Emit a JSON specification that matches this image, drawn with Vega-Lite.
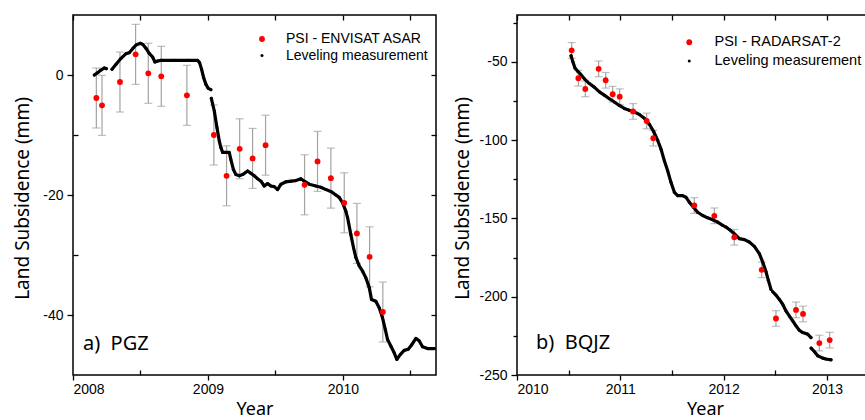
{
  "$schema": "https://vega.github.io/schema/vega-lite/v6.json",
  "background": "white",
  "padding": {"left": 12, "top": 13, "right": 0, "bottom": 0},
  "spacing": 81,
  "bounds": "flush",
  "resolve": {"scale": {"color": "independent", "size": "independent"}, "legend": {"color": "independent", "size": "independent"}},
  "datasets": {
    "psiA": [
      {"t": 2008.173, "v": -3.83, "lo": -8.83, "hi": 1.17, "series": "PSI - ENVISAT ASAR"},
      {"t": 2008.215, "v": -5.06, "lo": -10.06, "hi": -0.06, "series": "PSI - ENVISAT ASAR"},
      {"t": 2008.348, "v": -1.17, "lo": -6.17, "hi": 3.83, "series": "PSI - ENVISAT ASAR"},
      {"t": 2008.464, "v": 3.44, "lo": -1.56, "hi": 8.44, "series": "PSI - ENVISAT ASAR"},
      {"t": 2008.558, "v": 0.28, "lo": -4.72, "hi": 5.28, "series": "PSI - ENVISAT ASAR"},
      {"t": 2008.654, "v": -0.22, "lo": -5.22, "hi": 4.78, "series": "PSI - ENVISAT ASAR"},
      {"t": 2008.844, "v": -3.39, "lo": -8.39, "hi": 1.61, "series": "PSI - ENVISAT ASAR"},
      {"t": 2009.044, "v": -10.0, "lo": -15.0, "hi": -5.0, "series": "PSI - ENVISAT ASAR"},
      {"t": 2009.138, "v": -16.8, "lo": -21.8, "hi": -11.8, "series": "PSI - ENVISAT ASAR"},
      {"t": 2009.235, "v": -12.3, "lo": -17.3, "hi": -7.3, "series": "PSI - ENVISAT ASAR"},
      {"t": 2009.331, "v": -13.9, "lo": -18.9, "hi": -8.9, "series": "PSI - ENVISAT ASAR"},
      {"t": 2009.427, "v": -11.7, "lo": -16.7, "hi": -6.7, "series": "PSI - ENVISAT ASAR"},
      {"t": 2009.716, "v": -18.3, "lo": -23.3, "hi": -13.3, "series": "PSI - ENVISAT ASAR"},
      {"t": 2009.812, "v": -14.4, "lo": -19.4, "hi": -9.4, "series": "PSI - ENVISAT ASAR"},
      {"t": 2009.911, "v": -17.2, "lo": -22.2, "hi": -12.2, "series": "PSI - ENVISAT ASAR"},
      {"t": 2010.010, "v": -21.3, "lo": -26.3, "hi": -16.3, "series": "PSI - ENVISAT ASAR"},
      {"t": 2010.104, "v": -26.4, "lo": -31.4, "hi": -21.4, "series": "PSI - ENVISAT ASAR"},
      {"t": 2010.198, "v": -30.3, "lo": -35.3, "hi": -25.3, "series": "PSI - ENVISAT ASAR"},
      {"t": 2010.296, "v": -39.5, "lo": -44.5, "hi": -34.5, "series": "PSI - ENVISAT ASAR"}
    ],
    "levA": [
      {"t": 2008.158, "v": 0, "seg": 1, "series": "Leveling measurement"},
      {"t": 2008.183, "v": 0.39, "seg": 1, "series": "Leveling measurement"},
      {"t": 2008.207, "v": 0.83, "seg": 1, "series": "Leveling measurement"},
      {"t": 2008.232, "v": 1.17, "seg": 1, "series": "Leveling measurement"},
      {"t": 2008.247, "v": 1.06, "seg": 1, "series": "Leveling measurement"},
      {"t": 2008.289, "v": 0.94, "seg": 2, "series": "Leveling measurement"},
      {"t": 2008.319, "v": 1.78, "seg": 2, "series": "Leveling measurement"},
      {"t": 2008.356, "v": 2.78, "seg": 2, "series": "Leveling measurement"},
      {"t": 2008.393, "v": 3.56, "seg": 2, "series": "Leveling measurement"},
      {"t": 2008.417, "v": 3.72, "seg": 2, "series": "Leveling measurement"},
      {"t": 2008.442, "v": 4.39, "seg": 2, "series": "Leveling measurement"},
      {"t": 2008.467, "v": 5.0, "seg": 2, "series": "Leveling measurement"},
      {"t": 2008.499, "v": 5.28, "seg": 2, "series": "Leveling measurement"},
      {"t": 2008.516, "v": 5.11, "seg": 2, "series": "Leveling measurement"},
      {"t": 2008.541, "v": 4.44, "seg": 2, "series": "Leveling measurement"},
      {"t": 2008.565, "v": 3.61, "seg": 2, "series": "Leveling measurement"},
      {"t": 2008.590, "v": 3.0, "seg": 2, "series": "Leveling measurement"},
      {"t": 2008.607, "v": 2.17, "seg": 2, "series": "Leveling measurement"},
      {"t": 2008.627, "v": 2.33, "seg": 2, "series": "Leveling measurement"},
      {"t": 2008.652, "v": 2.44, "seg": 2, "series": "Leveling measurement"},
      {"t": 2008.751, "v": 2.44, "seg": 2, "series": "Leveling measurement"},
      {"t": 2008.849, "v": 2.44, "seg": 2, "series": "Leveling measurement"},
      {"t": 2008.923, "v": 2.44, "seg": 2, "series": "Leveling measurement"},
      {"t": 2008.938, "v": 2.06, "seg": 2, "series": "Leveling measurement"},
      {"t": 2008.953, "v": 0.94, "seg": 2, "series": "Leveling measurement"},
      {"t": 2008.968, "v": -0.44, "seg": 2, "series": "Leveling measurement"},
      {"t": 2008.985, "v": -1.56, "seg": 2, "series": "Leveling measurement"},
      {"t": 2009.002, "v": -2.22, "seg": 2, "series": "Leveling measurement"},
      {"t": 2009.022, "v": -2.44, "seg": 2, "series": "Leveling measurement"},
      {"t": 2009.025, "v": -3.89, "seg": 3, "series": "Leveling measurement"},
      {"t": 2009.047, "v": -6.0, "seg": 3, "series": "Leveling measurement"},
      {"t": 2009.067, "v": -8.78, "seg": 3, "series": "Leveling measurement"},
      {"t": 2009.084, "v": -11.0, "seg": 3, "series": "Leveling measurement"},
      {"t": 2009.096, "v": -12.1, "seg": 3, "series": "Leveling measurement"},
      {"t": 2009.109, "v": -12.9, "seg": 3, "series": "Leveling measurement"},
      {"t": 2009.126, "v": -12.9, "seg": 3, "series": "Leveling measurement"},
      {"t": 2009.158, "v": -12.9, "seg": 3, "series": "Leveling measurement"},
      {"t": 2009.170, "v": -14.1, "seg": 3, "series": "Leveling measurement"},
      {"t": 2009.188, "v": -15.7, "seg": 3, "series": "Leveling measurement"},
      {"t": 2009.207, "v": -16.6, "seg": 3, "series": "Leveling measurement"},
      {"t": 2009.232, "v": -16.8, "seg": 3, "series": "Leveling measurement"},
      {"t": 2009.257, "v": -16.6, "seg": 3, "series": "Leveling measurement"},
      {"t": 2009.294, "v": -16.0, "seg": 3, "series": "Leveling measurement"},
      {"t": 2009.319, "v": -16.4, "seg": 3, "series": "Leveling measurement"},
      {"t": 2009.343, "v": -16.8, "seg": 3, "series": "Leveling measurement"},
      {"t": 2009.368, "v": -17.3, "seg": 3, "series": "Leveling measurement"},
      {"t": 2009.393, "v": -17.7, "seg": 3, "series": "Leveling measurement"},
      {"t": 2009.417, "v": -18.5, "seg": 3, "series": "Leveling measurement"},
      {"t": 2009.442, "v": -18.1, "seg": 3, "series": "Leveling measurement"},
      {"t": 2009.467, "v": -18.5, "seg": 3, "series": "Leveling measurement"},
      {"t": 2009.491, "v": -18.6, "seg": 3, "series": "Leveling measurement"},
      {"t": 2009.516, "v": -19.1, "seg": 3, "series": "Leveling measurement"},
      {"t": 2009.541, "v": -18.2, "seg": 3, "series": "Leveling measurement"},
      {"t": 2009.578, "v": -17.8, "seg": 3, "series": "Leveling measurement"},
      {"t": 2009.615, "v": -17.7, "seg": 3, "series": "Leveling measurement"},
      {"t": 2009.652, "v": -17.6, "seg": 3, "series": "Leveling measurement"},
      {"t": 2009.689, "v": -17.3, "seg": 3, "series": "Leveling measurement"},
      {"t": 2009.714, "v": -17.7, "seg": 3, "series": "Leveling measurement"},
      {"t": 2009.751, "v": -18.2, "seg": 3, "series": "Leveling measurement"},
      {"t": 2009.800, "v": -18.5, "seg": 3, "series": "Leveling measurement"},
      {"t": 2009.837, "v": -18.7, "seg": 3, "series": "Leveling measurement"},
      {"t": 2009.874, "v": -19.1, "seg": 3, "series": "Leveling measurement"},
      {"t": 2009.911, "v": -19.4, "seg": 3, "series": "Leveling measurement"},
      {"t": 2009.948, "v": -20.0, "seg": 3, "series": "Leveling measurement"},
      {"t": 2009.973, "v": -20.4, "seg": 3, "series": "Leveling measurement"},
      {"t": 2009.998, "v": -21.3, "seg": 3, "series": "Leveling measurement"},
      {"t": 2010.022, "v": -22.7, "seg": 3, "series": "Leveling measurement"},
      {"t": 2010.035, "v": -23.8, "seg": 3, "series": "Leveling measurement"},
      {"t": 2010.059, "v": -26.6, "seg": 3, "series": "Leveling measurement"},
      {"t": 2010.079, "v": -28.8, "seg": 3, "series": "Leveling measurement"},
      {"t": 2010.096, "v": -30.4, "seg": 3, "series": "Leveling measurement"},
      {"t": 2010.121, "v": -31.8, "seg": 3, "series": "Leveling measurement"},
      {"t": 2010.146, "v": -32.7, "seg": 3, "series": "Leveling measurement"},
      {"t": 2010.170, "v": -33.8, "seg": 3, "series": "Leveling measurement"},
      {"t": 2010.195, "v": -35.4, "seg": 3, "series": "Leveling measurement"},
      {"t": 2010.212, "v": -37.4, "seg": 3, "series": "Leveling measurement"},
      {"t": 2010.244, "v": -37.7, "seg": 3, "series": "Leveling measurement"},
      {"t": 2010.269, "v": -38.8, "seg": 3, "series": "Leveling measurement"},
      {"t": 2010.293, "v": -40.4, "seg": 3, "series": "Leveling measurement"},
      {"t": 2010.314, "v": -42.4, "seg": 3, "series": "Leveling measurement"},
      {"t": 2010.331, "v": -44.1, "seg": 3, "series": "Leveling measurement"},
      {"t": 2010.356, "v": -45.2, "seg": 3, "series": "Leveling measurement"},
      {"t": 2010.380, "v": -46.3, "seg": 3, "series": "Leveling measurement"},
      {"t": 2010.400, "v": -47.4, "seg": 3, "series": "Leveling measurement"},
      {"t": 2010.425, "v": -46.6, "seg": 3, "series": "Leveling measurement"},
      {"t": 2010.454, "v": -45.9, "seg": 3, "series": "Leveling measurement"},
      {"t": 2010.484, "v": -45.7, "seg": 3, "series": "Leveling measurement"},
      {"t": 2010.509, "v": -45.0, "seg": 3, "series": "Leveling measurement"},
      {"t": 2010.541, "v": -43.9, "seg": 3, "series": "Leveling measurement"},
      {"t": 2010.565, "v": -44.3, "seg": 3, "series": "Leveling measurement"},
      {"t": 2010.590, "v": -45.3, "seg": 3, "series": "Leveling measurement"},
      {"t": 2010.627, "v": -45.6, "seg": 3, "series": "Leveling measurement"},
      {"t": 2010.677, "v": -45.6, "seg": 3, "series": "Leveling measurement"}
    ],
    "psiB": [
      {"t": 2010.529, "v": -42.6, "lo": -47.6, "hi": -37.6, "series": "PSI - RADARSAT-2"},
      {"t": 2010.594, "v": -60.4, "lo": -65.4, "hi": -55.4, "series": "PSI - RADARSAT-2"},
      {"t": 2010.661, "v": -67.2, "lo": -72.2, "hi": -62.2, "series": "PSI - RADARSAT-2"},
      {"t": 2010.790, "v": -54.4, "lo": -59.4, "hi": -49.4, "series": "PSI - RADARSAT-2"},
      {"t": 2010.858, "v": -61.7, "lo": -66.7, "hi": -56.7, "series": "PSI - RADARSAT-2"},
      {"t": 2010.926, "v": -70.6, "lo": -75.6, "hi": -65.6, "series": "PSI - RADARSAT-2"},
      {"t": 2010.994, "v": -72.2, "lo": -77.2, "hi": -67.2, "series": "PSI - RADARSAT-2"},
      {"t": 2011.123, "v": -81.6, "lo": -86.6, "hi": -76.6, "series": "PSI - RADARSAT-2"},
      {"t": 2011.255, "v": -87.7, "lo": -92.7, "hi": -82.7, "series": "PSI - RADARSAT-2"},
      {"t": 2011.319, "v": -98.7, "lo": -103.7, "hi": -93.7, "series": "PSI - RADARSAT-2"},
      {"t": 2011.716, "v": -141.7, "lo": -146.7, "hi": -136.7, "series": "PSI - RADARSAT-2"},
      {"t": 2011.910, "v": -148.3, "lo": -153.3, "hi": -143.3, "series": "PSI - RADARSAT-2"},
      {"t": 2012.103, "v": -162.0, "lo": -167.0, "hi": -157.0, "series": "PSI - RADARSAT-2"},
      {"t": 2012.368, "v": -182.8, "lo": -187.8, "hi": -177.8, "series": "PSI - RADARSAT-2"},
      {"t": 2012.506, "v": -213.9, "lo": -218.9, "hi": -208.9, "series": "PSI - RADARSAT-2"},
      {"t": 2012.700, "v": -208.4, "lo": -213.4, "hi": -203.4, "series": "PSI - RADARSAT-2"},
      {"t": 2012.768, "v": -211.0, "lo": -216.0, "hi": -206.0, "series": "PSI - RADARSAT-2"},
      {"t": 2012.926, "v": -229.6, "lo": -234.6, "hi": -224.6, "series": "PSI - RADARSAT-2"},
      {"t": 2013.026, "v": -227.7, "lo": -232.7, "hi": -222.7, "series": "PSI - RADARSAT-2"}
    ],
    "levB": [
      {"t": 2010.523, "v": -46.0, "seg": 1, "series": "Leveling measurement"},
      {"t": 2010.539, "v": -49.6, "seg": 1, "series": "Leveling measurement"},
      {"t": 2010.561, "v": -53.8, "seg": 1, "series": "Leveling measurement"},
      {"t": 2010.587, "v": -55.9, "seg": 1, "series": "Leveling measurement"},
      {"t": 2010.619, "v": -58.1, "seg": 1, "series": "Leveling measurement"},
      {"t": 2010.652, "v": -60.8, "seg": 1, "series": "Leveling measurement"},
      {"t": 2010.700, "v": -63.8, "seg": 1, "series": "Leveling measurement"},
      {"t": 2010.748, "v": -66.1, "seg": 1, "series": "Leveling measurement"},
      {"t": 2010.797, "v": -69.1, "seg": 1, "series": "Leveling measurement"},
      {"t": 2010.845, "v": -71.2, "seg": 1, "series": "Leveling measurement"},
      {"t": 2010.894, "v": -73.5, "seg": 1, "series": "Leveling measurement"},
      {"t": 2010.942, "v": -75.6, "seg": 1, "series": "Leveling measurement"},
      {"t": 2010.990, "v": -77.8, "seg": 1, "series": "Leveling measurement"},
      {"t": 2011.039, "v": -79.7, "seg": 1, "series": "Leveling measurement"},
      {"t": 2011.087, "v": -80.9, "seg": 1, "series": "Leveling measurement"},
      {"t": 2011.135, "v": -82.0, "seg": 1, "series": "Leveling measurement"},
      {"t": 2011.184, "v": -83.5, "seg": 1, "series": "Leveling measurement"},
      {"t": 2011.232, "v": -86.0, "seg": 1, "series": "Leveling measurement"},
      {"t": 2011.281, "v": -89.8, "seg": 1, "series": "Leveling measurement"},
      {"t": 2011.323, "v": -94.5, "seg": 1, "series": "Leveling measurement"},
      {"t": 2011.361, "v": -100.0, "seg": 1, "series": "Leveling measurement"},
      {"t": 2011.394, "v": -105.7, "seg": 1, "series": "Leveling measurement"},
      {"t": 2011.426, "v": -113.1, "seg": 1, "series": "Leveling measurement"},
      {"t": 2011.458, "v": -119.5, "seg": 1, "series": "Leveling measurement"},
      {"t": 2011.490, "v": -126.9, "seg": 1, "series": "Leveling measurement"},
      {"t": 2011.523, "v": -133.3, "seg": 1, "series": "Leveling measurement"},
      {"t": 2011.555, "v": -135.4, "seg": 1, "series": "Leveling measurement"},
      {"t": 2011.603, "v": -135.4, "seg": 1, "series": "Leveling measurement"},
      {"t": 2011.635, "v": -136.4, "seg": 1, "series": "Leveling measurement"},
      {"t": 2011.668, "v": -139.6, "seg": 1, "series": "Leveling measurement"},
      {"t": 2011.708, "v": -142.8, "seg": 1, "series": "Leveling measurement"},
      {"t": 2011.748, "v": -146.0, "seg": 1, "series": "Leveling measurement"},
      {"t": 2011.797, "v": -148.1, "seg": 1, "series": "Leveling measurement"},
      {"t": 2011.845, "v": -149.6, "seg": 1, "series": "Leveling measurement"},
      {"t": 2011.894, "v": -150.8, "seg": 1, "series": "Leveling measurement"},
      {"t": 2011.942, "v": -152.3, "seg": 1, "series": "Leveling measurement"},
      {"t": 2011.990, "v": -154.4, "seg": 1, "series": "Leveling measurement"},
      {"t": 2012.023, "v": -155.5, "seg": 1, "series": "Leveling measurement"},
      {"t": 2012.055, "v": -157.0, "seg": 1, "series": "Leveling measurement"},
      {"t": 2012.103, "v": -159.7, "seg": 1, "series": "Leveling measurement"},
      {"t": 2012.152, "v": -162.9, "seg": 1, "series": "Leveling measurement"},
      {"t": 2012.200, "v": -163.5, "seg": 1, "series": "Leveling measurement"},
      {"t": 2012.248, "v": -165.0, "seg": 1, "series": "Leveling measurement"},
      {"t": 2012.297, "v": -167.8, "seg": 1, "series": "Leveling measurement"},
      {"t": 2012.345, "v": -172.4, "seg": 1, "series": "Leveling measurement"},
      {"t": 2012.377, "v": -177.7, "seg": 1, "series": "Leveling measurement"},
      {"t": 2012.410, "v": -184.1, "seg": 1, "series": "Leveling measurement"},
      {"t": 2012.432, "v": -189.4, "seg": 1, "series": "Leveling measurement"},
      {"t": 2012.458, "v": -195.3, "seg": 1, "series": "Leveling measurement"},
      {"t": 2012.474, "v": -196.8, "seg": 2, "series": "Leveling measurement"},
      {"t": 2012.506, "v": -198.9, "seg": 2, "series": "Leveling measurement"},
      {"t": 2012.539, "v": -201.7, "seg": 2, "series": "Leveling measurement"},
      {"t": 2012.571, "v": -204.8, "seg": 2, "series": "Leveling measurement"},
      {"t": 2012.603, "v": -209.1, "seg": 2, "series": "Leveling measurement"},
      {"t": 2012.635, "v": -212.3, "seg": 2, "series": "Leveling measurement"},
      {"t": 2012.668, "v": -215.4, "seg": 2, "series": "Leveling measurement"},
      {"t": 2012.700, "v": -218.6, "seg": 2, "series": "Leveling measurement"},
      {"t": 2012.732, "v": -221.4, "seg": 2, "series": "Leveling measurement"},
      {"t": 2012.765, "v": -222.9, "seg": 2, "series": "Leveling measurement"},
      {"t": 2012.813, "v": -223.9, "seg": 2, "series": "Leveling measurement"},
      {"t": 2012.845, "v": -226.1, "seg": 2, "series": "Leveling measurement"},
      {"t": 2012.846, "v": -232.8, "seg": 3, "series": "Leveling measurement"},
      {"t": 2012.877, "v": -235.0, "seg": 3, "series": "Leveling measurement"},
      {"t": 2012.910, "v": -237.7, "seg": 3, "series": "Leveling measurement"},
      {"t": 2012.958, "v": -239.2, "seg": 3, "series": "Leveling measurement"},
      {"t": 2012.990, "v": -239.8, "seg": 3, "series": "Leveling measurement"},
      {"t": 2013.039, "v": -240.3, "seg": 3, "series": "Leveling measurement"}
    ]
  },
  "hconcat": [
    {
      "width": 363,
      "height": 360,
      "resolve": {"axis": {"x": "independent", "y": "independent"}},
      "layer": [
        {
          "data": {"name": "psiA"},
          "mark": {"type": "errorbar", "color": "#a3a3a3", "ticks": {"size": 8, "thickness": 1.2}, "rule": {"strokeWidth": 1.2}},
          "encoding": {
            "x": {"field": "t", "type": "quantitative", "scale": {"domain": [2008, 2010.69], "nice": false, "zero": false}, "axis": null},
            "y": {"field": "lo", "type": "quantitative", "scale": {"domain": [-50, 10], "nice": false, "zero": false}, "axis": null},
            "y2": {"field": "hi"}
          }
        },
        {
          "data": {"name": "levA"},
          "mark": {"type": "line", "color": "black", "strokeWidth": 3.2, "strokeCap": "round", "strokeJoin": "round"},
          "encoding": {
            "x": {"field": "t", "type": "quantitative", "scale": {"domain": [2008, 2010.69], "nice": false, "zero": false},
              "axis": {"orient": "bottom", "values": [2008, 2009, 2010], "labelExpr": "'' + datum.value", "tickSize": 5, "labelPadding": 2, "title": "Year", "titleFontSize": 18, "titleX": 181.5, "titleY": 39, "titleBaseline": "alphabetic", "titleAlign": "center"}},
            "y": {"field": "v", "type": "quantitative", "scale": {"domain": [-50, 10], "nice": false, "zero": false},
              "axis": {"orient": "left", "values": [-40, -20, 0], "labelExpr": "'' + datum.value", "tickSize": 6, "labelPadding": 4, "title": "Land Subsidence (mm)", "titleX": -45, "titleY": 183, "titleAngle": -90, "titleBaseline": "alphabetic", "titleAlign": "center"}},
            "detail": {"field": "seg", "type": "nominal"}
          }
        },
        {
          "data": {"name": "levA"},
          "mark": {"type": "point", "filled": true, "opacity": 1, "strokeWidth": 0},
          "encoding": {
            "x": {"field": "t", "type": "quantitative", "scale": {"domain": [2008, 2010.69], "nice": false, "zero": false},
              "axis": {"orient": "bottom", "values": [2008.5, 2009.5, 2010.5], "tickSize": -5, "labels": false, "title": null}},
            "y": {"field": "v", "type": "quantitative", "scale": {"domain": [-50, 10], "nice": false, "zero": false},
              "axis": {"orient": "left", "values": [-30, -10], "tickSize": -5, "labels": false, "title": null}},
            "color": {"field": "series", "type": "nominal", "scale": {"domain": ["PSI - ENVISAT ASAR", "Leveling measurement"], "range": ["#ff0000", "#000000"]},
              "legend": {"orient": "none", "legendX": 182, "legendY": 17, "title": null, "padding": 0, "labelFont": "Liberation Sans", "labelFontSize": 14, "labelColor": "black", "labelOffset": 17, "rowPadding": 2.6, "symbolStrokeWidth": 0}},
            "size": {"field": "series", "type": "nominal", "scale": {"domain": ["PSI - ENVISAT ASAR", "Leveling measurement"], "range": [34, 9]}}
          }
        },
        {
          "data": {"name": "psiA"},
          "mark": {"type": "point", "filled": true, "opacity": 1, "strokeWidth": 0},
          "encoding": {
            "x": {"field": "t", "type": "quantitative", "scale": {"domain": [2008, 2010.69], "nice": false, "zero": false},
              "axis": {"orient": "top", "values": [2008, 2008.5, 2009, 2009.5, 2010, 2010.5], "tickSize": -5, "labels": false, "title": null}},
            "y": {"field": "v", "type": "quantitative", "scale": {"domain": [-50, 10], "nice": false, "zero": false},
              "axis": {"orient": "right", "values": [-40, -30, -20, -10, 0], "tickSize": -5, "labels": false, "title": null}},
            "color": {"field": "series", "type": "nominal", "scale": {"domain": ["PSI - ENVISAT ASAR", "Leveling measurement"], "range": ["#ff0000", "#000000"]}},
            "size": {"field": "series", "type": "nominal", "scale": {"domain": ["PSI - ENVISAT ASAR", "Leveling measurement"], "range": [34, 9]}}
          }
        },
        {
          "data": {"values": [{"label": "a)\u00a0\u00a0PGZ"}]},
          "mark": {"type": "text", "align": "left", "baseline": "alphabetic", "font": "Noto Sans", "fontSize": 20, "color": "black"},
          "encoding": {
            "x": {"datum": 2008.074, "type": "quantitative", "scale": {"domain": [2008, 2010.69], "nice": false, "zero": false}, "axis": null},
            "y": {"datum": -45.8, "type": "quantitative", "scale": {"domain": [-50, 10], "nice": false, "zero": false}, "axis": null},
            "text": {"field": "label"}
          }
        }
      ]
    },
    {
      "width": 372,
      "height": 360,
      "resolve": {"axis": {"x": "independent", "y": "independent"}},
      "layer": [
        {
          "data": {"name": "psiB"},
          "mark": {"type": "errorbar", "color": "#a3a3a3", "ticks": {"size": 8, "thickness": 1.2}, "rule": {"strokeWidth": 1.2}},
          "encoding": {
            "x": {"field": "t", "type": "quantitative", "scale": {"domain": [2010, 2013.6], "nice": false, "zero": false}, "axis": null},
            "y": {"field": "lo", "type": "quantitative", "scale": {"domain": [-250, -20], "nice": false, "zero": false}, "axis": null},
            "y2": {"field": "hi"}
          }
        },
        {
          "data": {"name": "levB"},
          "mark": {"type": "line", "color": "black", "strokeWidth": 3.2, "strokeCap": "round", "strokeJoin": "round"},
          "encoding": {
            "x": {"field": "t", "type": "quantitative", "scale": {"domain": [2010, 2013.6], "nice": false, "zero": false},
              "axis": {"orient": "bottom", "values": [2010, 2011, 2012, 2013], "labelExpr": "'' + datum.value", "tickSize": 5, "labelPadding": 2, "title": "Year", "titleFontSize": 18, "titleX": 188, "titleY": 39, "titleBaseline": "alphabetic", "titleAlign": "center"}},
            "y": {"field": "v", "type": "quantitative", "scale": {"domain": [-250, -20], "nice": false, "zero": false},
              "axis": {"orient": "left", "values": [-250, -200, -150, -100, -50], "labelExpr": "'' + datum.value", "tickSize": 6, "labelPadding": 4, "title": "Land Subsidence (mm)", "titleX": -49, "titleY": 183, "titleAngle": -90, "titleBaseline": "alphabetic", "titleAlign": "center"}},
            "detail": {"field": "seg", "type": "nominal"}
          }
        },
        {
          "data": {"name": "levB"},
          "mark": {"type": "point", "filled": true, "opacity": 1, "strokeWidth": 0},
          "encoding": {
            "x": {"field": "t", "type": "quantitative", "scale": {"domain": [2010, 2013.6], "nice": false, "zero": false},
              "axis": {"orient": "bottom", "values": [2010.5, 2011.5, 2012.5, 2013.5], "tickSize": -5, "labels": false, "title": null}},
            "y": {"field": "v", "type": "quantitative", "scale": {"domain": [-250, -20], "nice": false, "zero": false},
              "axis": {"orient": "left", "values": [-225, -175, -125, -75, -25], "tickSize": 4, "labels": false, "title": null}},
            "color": {"field": "series", "type": "nominal", "scale": {"domain": ["PSI - RADARSAT-2", "Leveling measurement"], "range": ["#ff0000", "#000000"]},
              "legend": {"orient": "none", "legendX": 165, "legendY": 20, "title": null, "padding": 0, "labelFont": "Liberation Sans", "labelFontSize": 14.5, "labelColor": "black", "labelOffset": 18, "rowPadding": 3.8, "symbolStrokeWidth": 0}},
            "size": {"field": "series", "type": "nominal", "scale": {"domain": ["PSI - RADARSAT-2", "Leveling measurement"], "range": [34, 9]}}
          }
        },
        {
          "data": {"name": "psiB"},
          "mark": {"type": "point", "filled": true, "opacity": 1, "strokeWidth": 0},
          "encoding": {
            "x": {"field": "t", "type": "quantitative", "scale": {"domain": [2010, 2013.6], "nice": false, "zero": false},
              "axis": {"orient": "top", "values": [2010, 2010.5, 2011, 2011.5, 2012, 2012.5, 2013, 2013.5], "tickSize": -5, "labels": false, "title": null}},
            "y": {"field": "v", "type": "quantitative", "scale": {"domain": [-250, -20], "nice": false, "zero": false},
              "axis": {"orient": "right", "values": [-225, -200, -175, -150, -125, -100, -75, -50, -25], "tickSize": -5, "labels": false, "title": null}},
            "color": {"field": "series", "type": "nominal", "scale": {"domain": ["PSI - RADARSAT-2", "Leveling measurement"], "range": ["#ff0000", "#000000"]}},
            "size": {"field": "series", "type": "nominal", "scale": {"domain": ["PSI - RADARSAT-2", "Leveling measurement"], "range": [34, 9]}}
          }
        },
        {
          "data": {"values": [{"label": "b)\u00a0\u00a0BQJZ"}]},
          "mark": {"type": "text", "align": "left", "baseline": "alphabetic", "font": "Noto Sans", "fontSize": 20, "color": "black"},
          "encoding": {
            "x": {"datum": 2010.184, "type": "quantitative", "scale": {"domain": [2010, 2013.6], "nice": false, "zero": false}, "axis": null},
            "y": {"datum": -233.3, "type": "quantitative", "scale": {"domain": [-250, -20], "nice": false, "zero": false}, "axis": null},
            "text": {"field": "label"}
          }
        }
      ]
    }
  ],
  "config": {
    "view": {"stroke": "black", "strokeWidth": 1.5},
    "axis": {"grid": false, "domain": false, "tickColor": "black", "tickWidth": 1.3, "labelFont": "Liberation Sans", "labelFontSize": 14, "labelColor": "black", "titleFont": "Noto Sans", "titleFontSize": 19, "titleFontWeight": "normal", "titleColor": "black"},
    "legend": {"symbolType": "circle"}
  }
}
